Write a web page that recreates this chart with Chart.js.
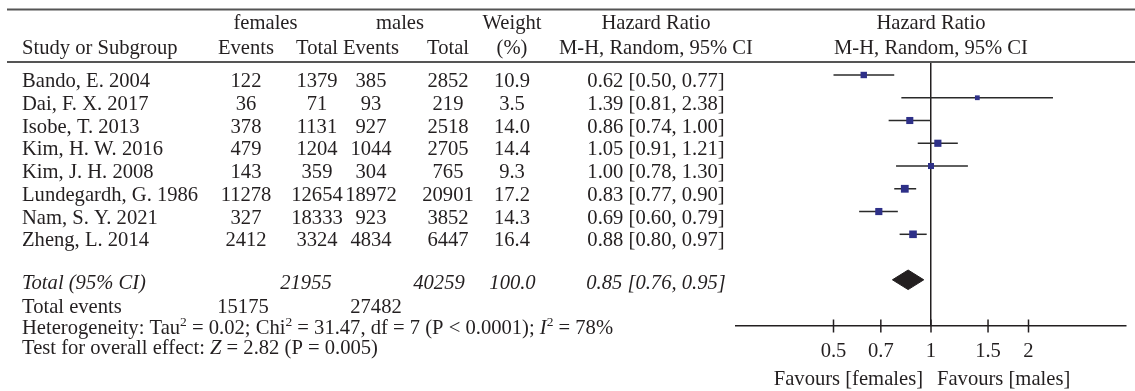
<!DOCTYPE html>
<html>
<head>
<meta charset="utf-8">
<script src="https://cdn.jsdelivr.net/npm/chart.js@4/dist/chart.umd.min.js"></script>
<style>
  html, body { margin: 0; padding: 0; background: #ffffff; }
  #wrap { width: 1135px; height: 391px; }
</style>
</head>
<body>
<div id="wrap"><canvas id="c" width="1135" height="391"></canvas></div>
<script>
// ---------------- DATA ----------------
const studies = ["Bando, E. 2004", "Dai, F. X. 2017", "Isobe, T. 2013", "Kim, H. W. 2016",
  "Kim, J. H. 2008", "Lundegardh, G. 1986", "Nam, S. Y. 2021", "Zheng, L. 2014"];
const femaleEvents = [122, 36, 378, 479, 143, 11278, 327, 2412];
const femaleTotal  = [1379, 71, 1131, 1204, 359, 12654, 18333, 3324];
const maleEvents   = [385, 93, 927, 1044, 304, 18972, 923, 4834];
const maleTotal    = [2852, 219, 2518, 2705, 765, 20901, 3852, 6447];
const weights      = [10.9, 3.5, 14.0, 14.4, 9.3, 17.2, 14.3, 16.4];
const hazardRatio  = [0.62, 1.39, 0.86, 1.05, 1.00, 0.83, 0.69, 0.88];
const ciLower      = [0.50, 0.81, 0.74, 0.91, 0.78, 0.77, 0.60, 0.80];
const ciUpper      = [0.77, 2.38, 1.00, 1.21, 1.30, 0.90, 0.79, 0.97];

const pooledHR = [0.85];
const pooledCI = [0.76, 0.95];
const totalParticipants = [21955, 40259];   // females, males
const totalWeight = [100.0];
const totalEvents = [15175, 27482];         // females, males

const tickValues = [0.5, 0.7, 1, 1.5, 2];
const tickLabels = ["0.5", "0.7", "1", "1.5", "2"];
const axisRange = [0.25, 4];

const heterogeneityParts = [
  ["Heterogeneity: Tau", ""], ["2", "sup"], [" = 0.02; Chi", ""], ["2", "sup"],
  [" = 31.47, df = 7 (P < 0.0001); ", ""], ["I", "it"], ["2", "sup"], [" = 78%", ""]
];
const overallParts = [["Test for overall effect: ", ""], ["Z", "it"], [" = 2.82 (P = 0.005)", ""]];
const favourLabels = ["Favours [females]", "Favours [males]"];

// ---------------- STYLE / LAYOUT ----------------
const FONT_FAMILY = '"Liberation Serif", "Times New Roman", serif';
const INK = '#231f20';
const SQUARE = '#2e3088';
const RULE = '#555555';
const FS = 20.6;
const TOTAL_ROW = 9;
const DIAMOND_HALF = 0.43;

function f(size, italic) { return (italic ? 'italic ' : '') + size + 'px ' + FONT_FAMILY; }

// ---------------- DATASETS ----------------
const ciDatasets = studies.map((s, i) => ({
  type: 'scatter',
  showLine: true,
  data: [{ x: ciLower[i], y: i }, { x: ciUpper[i], y: i }],
  borderColor: '#2a2a2a',
  borderWidth: 1.5,
  pointRadius: 0,
  order: 2
}));

const squareDataset = {
  type: 'scatter',
  data: hazardRatio.map((v, i) => ({ x: v, y: i })),
  pointStyle: 'rect',
  pointRadius: (ctx) => (4 + 0.22 * weights[ctx.dataIndex]) / (2 * Math.SQRT1_2),
  backgroundColor: SQUARE,
  borderColor: SQUARE,
  borderWidth: 0,
  order: 0
};

const diamondDataset = {
  type: 'scatter',
  showLine: true,
  data: [
    { x: pooledCI[0], y: TOTAL_ROW },
    { x: pooledHR[0], y: TOTAL_ROW - DIAMOND_HALF },
    { x: pooledCI[1], y: TOTAL_ROW },
    { x: pooledHR[0], y: TOTAL_ROW + DIAMOND_HALF },
    { x: pooledCI[0], y: TOTAL_ROW }
  ],
  borderColor: INK,
  backgroundColor: INK,
  borderWidth: 1,
  pointRadius: 0,
  tension: 0,
  fill: 'shape',
  order: 1
};

// ---------------- TABLE PLUGIN ----------------
const COL = { study: 22, fe: 246, ft: 317, me: 371, mt: 448, w: 512, ci: 656 };

function drawParts(ctx, parts, x, y) {
  ctx.textAlign = 'left';
  let cx = x;
  for (const [t, kind] of parts) {
    if (kind === 'sup') {
      ctx.font = f(13.5, false);
      ctx.fillText(t, cx, y - 8);
    } else {
      ctx.font = f(FS, kind === 'it');
      ctx.fillText(t, cx, y);
    }
    cx += ctx.measureText(t).width;
  }
}

const tablePlugin = {
  id: 'forestTable',
  afterDraw(chart) {
    const ctx = chart.ctx;
    const xs = chart.scales.x, ys = chart.scales.y;
    const area = chart.chartArea;
    ctx.save();
    // header rules
    ctx.strokeStyle = RULE;
    ctx.lineWidth = 2;
    [9.5, 62].forEach(y => {
      ctx.beginPath(); ctx.moveTo(7, y); ctx.lineTo(1135, y); ctx.stroke();
    });

    ctx.fillStyle = INK;
    ctx.textBaseline = 'alphabetic';
    const put = (s, x, y, align, italic) => {
      ctx.font = f(FS, italic); ctx.textAlign = align; ctx.fillText(s, x, y);
    };
    const plotCenter = xs.getPixelForValue(1);
    // header row 1
    put('females', 265.5, 28.5, 'center');
    put('males', 400, 28.5, 'center');
    put('Weight', 512, 28.5, 'center');
    put('Hazard Ratio', COL.ci, 28.5, 'center');
    put('Hazard Ratio', plotCenter, 28.5, 'center');
    // header row 2
    put('Study or Subgroup', COL.study, 54, 'left');
    put('Events', COL.fe, 54, 'center');
    put('Total', COL.ft, 54, 'center');
    put('Events', COL.me, 54, 'center');
    put('Total', COL.mt, 54, 'center');
    put('(%)', COL.w, 54, 'center');
    put('M-H, Random, 95% CI', COL.ci, 54, 'center');
    put('M-H, Random, 95% CI', plotCenter, 54, 'center');

    // study rows
    studies.forEach((s, i) => {
      const y = ys.getPixelForValue(i) + 12;
      put(s, COL.study, y, 'left');
      put(String(femaleEvents[i]), COL.fe, y, 'center');
      put(String(femaleTotal[i]), COL.ft, y, 'center');
      put(String(maleEvents[i]), COL.me, y, 'center');
      put(String(maleTotal[i]), COL.mt, y, 'center');
      put(weights[i].toFixed(1), COL.w, y, 'center');
      put(hazardRatio[i].toFixed(2) + ' [' + ciLower[i].toFixed(2) + ', ' + ciUpper[i].toFixed(2) + ']', COL.ci, y, 'center');
    });

    // total row
    const ty = ys.getPixelForValue(TOTAL_ROW) + 9;
    put('Total (95% CI)', COL.study, ty, 'left', true);
    put(String(totalParticipants[0]), 306, ty, 'center', true);
    put(String(totalParticipants[1]), 439, ty, 'center', true);
    put(totalWeight[0].toFixed(1), 512.5, ty, 'center', true);
    put(pooledHR[0].toFixed(2) + ' [' + pooledCI[0].toFixed(2) + ', ' + pooledCI[1].toFixed(2) + ']', COL.ci, ty, 'center', true);

    put('Total events', COL.study, 312.5, 'left');
    put(String(totalEvents[0]), 243, 312.5, 'center');
    put(String(totalEvents[1]), 376, 312.5, 'center');
    drawParts(ctx, heterogeneityParts, COL.study, 334);
    drawParts(ctx, overallParts, COL.study, 354);

    // axis tick marks crossing the axis line
    ctx.strokeStyle = INK;
    ctx.lineWidth = 1.5;
    const ay = area.bottom;
    xs.ticks.forEach(t => {
      const px = xs.getPixelForValue(t.value);
      ctx.beginPath(); ctx.moveTo(px, ay - 6.5); ctx.lineTo(px, ay + 6.5); ctx.stroke();
    });

    // favours labels
    put(favourLabels[0], plotCenter - 8, 385, 'right');
    put(favourLabels[1], plotCenter + 6, 385, 'left');
    ctx.restore();
  }
};

// ---------------- CHART ----------------
new Chart(document.getElementById('c'), {
  type: 'scatter',
  data: { datasets: [squareDataset, diamondDataset, ...ciDatasets] },
  options: {
    responsive: false,
    animation: false,
    devicePixelRatio: 1,
    layout: { padding: { left: 736, right: 9, top: 62, bottom: 0 } },
    plugins: { legend: { display: false }, tooltip: { enabled: false } },
    scales: {
      x: {
        type: 'logarithmic',
        min: axisRange[0],
        max: axisRange[1],
        afterBuildTicks: (scale) => { scale.ticks = tickValues.map(v => ({ value: v })); },
        afterFit: (scale) => { scale.height = 65; },
        ticks: {
          autoSkip: false,
          maxRotation: 0,
          padding: 13,
          color: INK,
          font: { family: FONT_FAMILY, size: FS },
          callback: (value, index) => tickLabels[index]
        },
        grid: {
          drawTicks: false,
          color: (ctx) => (ctx.tick && ctx.tick.value === 1 ? INK : 'rgba(0,0,0,0)'),
          lineWidth: 1.5
        },
        border: { display: true, color: INK, width: 1.5 }
      },
      y: {
        type: 'linear',
        reverse: true,
        min: -0.571,
        max: 11.03,
        display: false
      }
    }
  },
  plugins: [tablePlugin]
});
</script>
</body>
</html>
